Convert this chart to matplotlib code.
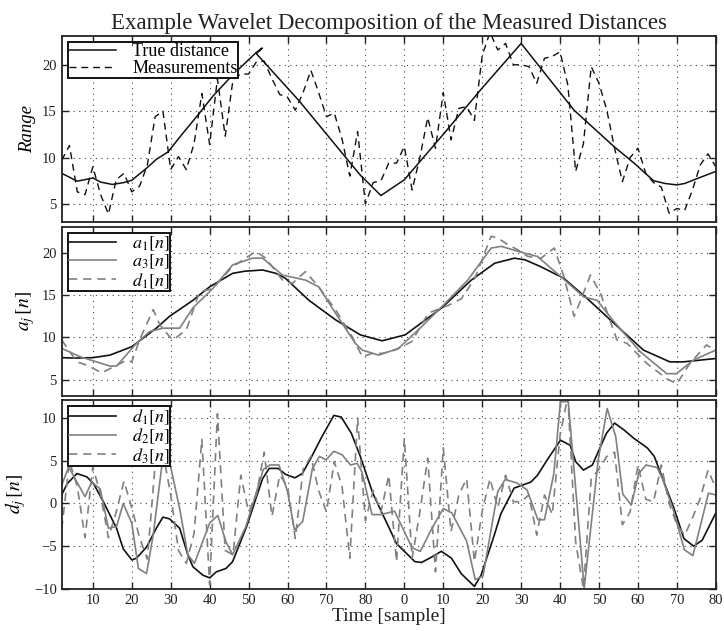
import matplotlib
matplotlib.use('Agg')
import matplotlib.pyplot as plt

plt.rcParams['font.family'] = ['Liberation Serif', 'DejaVu Serif']
plt.rcParams['mathtext.fontset'] = 'stix'

# ---- top panel: true range and noisy measurements ----
true_x = [2, 6, 9, 10, 12, 15, 18, 20, 23.8, 26.3, 29.3, 33.1, 37.4, 40.8, 45.9, 51.9,
          53.5, 52, 63, 78.7, 84, 90, 100, 110, 120, 133.6, 143.8, 149, 154, 157,
          160, 162, 165, 170]
true_y = [8.3, 7.45, 7.7, 7.8, 7.35, 7.1, 7.3, 7.55, 8.85, 9.8, 10.6, 12.6, 14.8, 16.6, 18.9, 21.3,
          21.8, 21.2, 16.1, 8.1, 5.9, 7.6, 12.5, 17.5, 22.3, 15.1, 11.2, 9.4, 7.5, 7.2,
          7.05, 7.2, 7.7, 8.5]

meas_x = list(range(2, 171, 2))
meas_y = [9.7, 11.3, 6.3, 6.0, 9.0, 6.0, 3.9, 7.6, 8.3, 6.3,
          6.9, 9.2, 14.4, 15.0, 8.7, 10.1, 8.7, 11.5, 16.9, 11.4,
          18.5, 12.3, 18.4, 19.0, 19.0, 20.3, 20.4, 18.5, 16.8, 16.5,
          15.1, 17.0, 19.4, 17.0, 14.4, 14.8, 12.0, 8.0, 12.8, 5.0,
          7.3, 7.5, 9.4, 9.4, 11.2, 6.5, 10.0, 14.3, 11.0, 17.0,
          11.9, 15.3, 15.5, 14.0, 21.0, 23.5, 21.6, 22.3, 20.0, 20.0,
          19.8, 18.0, 20.7, 20.9, 21.4, 17.8, 8.5, 11.5, 19.8, 18.0,
          15.1, 11.0, 7.4, 10.0, 11.0, 8.3, 7.3, 6.8, 4.0, 4.5,
          4.3, 6.5, 9.2, 10.4, 9.0]

# ---- middle panel: approximations ----
a1_x = [2, 5, 10, 14.4, 20, 26.3, 29.7, 35.7, 40, 45.9, 49, 53.6, 57, 59.5, 65.5, 72.3,
        78.7, 84.3, 90.2, 99.6, 107.2, 113.2, 118.3, 121, 125, 131, 137, 143.8, 151.4,
        158.2, 161.6, 170]
a1_y = [7.6, 7.55, 7.6, 7.9, 8.9, 11.1, 12.5, 14.4, 16.0, 17.6, 17.85, 18.0, 17.6, 17.0, 14.4, 12.1,
        10.3, 9.6, 10.3, 13.5, 16.8, 18.8, 19.4, 19.2, 18.4, 17.0, 14.6, 11.7, 8.5,
        7.1, 7.1, 7.5]

a3_x = [2, 6.8, 14.4, 16.1, 21.2, 24.6, 28, 32.3, 35.7, 40.8, 45.9, 51, 53.6, 58.7, 64.6,
        68, 72.3, 77.4, 79.2, 83.4, 88.5, 94.5, 100.4, 106.3, 112.3, 114.9, 120.8, 124.2,
        130.2, 136.1, 139.5, 143.8, 150.6, 157.4, 159.9, 164.2, 170]
a3_y = [8.7, 7.7, 6.6, 6.6, 9.3, 10.7, 11.1, 11.1, 13.5, 15.8, 18.6, 19.4, 19.4, 17.4, 16.8,
        16.0, 12.9, 9.3, 8.5, 7.9, 8.7, 11.3, 14.0, 16.8, 20.6, 20.8, 20.0, 19.6,
        17.2, 14.8, 14.4, 11.9, 8.3, 5.7, 5.7, 7.3, 8.5]

a2_x = [2, 5.9, 8.5, 12.3, 18.7, 20, 22, 25.5, 27.2, 29.7, 30.6, 34, 37.4, 40.8, 45.9, 51.9,
        54.4, 58.7, 61.2, 64.6, 68, 72.3, 76.6, 79.2, 81.7, 84.3, 87.7, 91.9, 96.2, 101.3,
        104.7, 108.1, 112.3, 114, 116.6, 119.1, 121.7, 125.1, 128.5, 131, 133.6, 135.3,
        137.8, 140.4, 144.6, 147.2, 152.3, 157.4, 160, 163.3, 167.6, 170]
a2_y = [9.7, 7.1, 6.7, 5.8, 7.3, 7.1, 9.7, 13.3, 11.5, 10.1, 9.7, 10.9, 15.4, 15.8, 18.4, 20.2,
        19.4, 16.8, 16.4, 17.8, 16.0, 13.3, 10.1, 7.7, 8.1, 8.1, 8.5, 9.5, 12.9, 13.8,
        14.6, 17.0, 22.0, 21.8, 21.0, 20.4, 19.6, 19.4, 20.6, 17.2, 12.5, 14.4,
        17.4, 15.2, 9.7, 9.3, 6.9, 5.1, 4.5, 6.9, 9.1, 8.5]

# ---- bottom panel: details ----
d1_x = [2, 3.4, 5.9, 8.5, 10.2, 12.7, 16.1, 17.8, 20, 21.2, 23.8, 26.3, 28, 29.7, 32.3,
        34.4, 35.7, 38.3, 40, 41.7, 44.2, 45.9, 49.5, 51.9, 53.6, 55.3, 57.6, 59.5, 61.9,
        63.8, 66, 68.7, 71.9, 73.8, 76.4, 78.7, 81.9, 85.3, 88, 92.7, 94.4, 96.9, 99.5,
        102.1, 104.6, 108, 109.7, 113.1, 114.8, 118.2, 122.5, 124.2, 126.7, 130.1, 132.6,
        134, 136, 138.3, 141.9, 144, 146.4, 149, 152.4, 154.2, 156.6, 159.2, 161.8, 164.3,
        166.5, 170]
d1_y = [1.0, 2.3, 3.5, 3.1, 2.3, 0.2, -2.9, -5.3, -6.6, -6.4, -5.1, -2.9, -1.6, -1.8, -2.9,
        -6.0, -7.4, -8.4, -8.7, -8.0, -7.6, -6.8, -2.7, 0.6, 2.9, 4.1, 4.1, 3.4, 3.0,
        3.5, 5.3, 7.7, 10.3, 10.1, 8.2, 5.5, 1.2, -2.1, -4.7, -6.8, -6.9, -6.3, -5.6,
        -6.4, -8.2, -9.7, -8.4, -3.7, -1.2, 1.8, 2.5, 3.3, 5.1, 7.4, 6.8,
        4.9, 3.9, 4.5, 8.2, 9.4, 8.6, 7.6, 6.5, 5.5, 2.6, -0.5, -4.1, -5.0,
        -4.3, -1.1]

d2_x = [2, 3.8, 5.9, 8, 9.7, 11.9, 14, 16.1, 17.8, 20, 21.7, 23.8, 25.5, 28, 29.7, 32.3,
        34.4, 36.1, 40, 42.1, 44.2, 45.9, 49.3, 53.8, 55.5, 57.8, 60, 61.8, 63.9, 66.4,
        68.2, 69.9, 71.9, 74, 76.2, 77.9, 79.1, 81.7, 84, 87.5, 89.8, 92, 94.1, 97.1,
        100, 102.2, 106, 108.2, 110.2, 114, 115.9, 118.9, 121.5, 124.3, 126, 128.4, 130.1,
        132.1, 136.2, 139.8, 142.1, 144.3, 146.1, 148.3, 150.2, 152.1, 154.9, 156.3,
        159.1, 161.9, 164.1, 166.1, 168.1, 170]
d2_y = [2.1, 4.3, 2.5, 0.8, 2.5, 1.7, -2.9, -2.7, 0, -2.3, -7.6, -8.2, -3.7, 5.4, 4.9, -0.6,
        -6.0, -7.0, -2.3, -1.4, -4.5, -6.0, -2.7, 4.0, 4.5, 4.5, 1.4, -3.1, -2.1, 4.1,
        5.5, 5.1, 6.1, 5.7, 4.5, 4.7, 3.7, -1.3, -1.3, -0.9, -3.1, -5.2, -5.6, -2.9,
        -0.6, -1.1, -4.4, -8.9, -8.5, 1.4, 2.8, 2.4, 1.6, -1.9, -1.9, 3.5, 11.9,
        11.9, -9.9, 5.1, 11.1, 7.8, 1.1, -0.2, 3.5, 4.5, 4.2, 2.9,
        -0.8, -5.4, -6.1, -2.5, 1.2, 1.0]

d3_x = list(range(2, 171, 2))
d3_y = [-3.0, 4.9, 2.0, -4.0, 4.3, 1.0, -4.0, -1.0, 2.6, -0.5,
        -4.0, -6.5, 4.5, 6.0, 1.0, -5.5, -7.0, -3.5, 7.5, -9.5,
        10.5, -5.5, -6.0, 3.3, -1.0, 1.0, 6.0, -1.5, 3.3, 2.0,
        -4.1, 4.0, 5.5, 1.5, -1.0, 4.9, 2.0, -6.4, 10.0, -2.0,
        1.5, -1.0, 3.3, -6.8, 7.6, -6.4, -1.0, 5.3, -8.0, 6.5,
        -3.3, 1.0, 2.9, -6.8, -0.9, 2.9, -0.5, 3.3, 0.2, 0.2,
        1.0, -3.7, 1.0, -1.3, 8.0, 12.5, -4.5, -10.0, 2.9, 4.0,
        5.5, 6.0, -2.5, -1.0, 4.5, 0.5, 0.2, 4.5, 0.0, -2.5,
        -3.7, -1.7, 0.6, 3.9, 1.8]

xticks = list(range(10, 171, 10))
xtick_labels = ['10', '20', '30', '40', '50', '60', '70', '80', '0',
                '10', '20', '30', '40', '50', '60', '70', '80']

BLACK = '#111111'
GRAY = '#808080'

fig = plt.figure(figsize=(7.24, 6.31), dpi=100)
left, width = 0.0852, 0.9035
ax1 = fig.add_axes([left, 0.6482, width, 0.2947])
ax2 = fig.add_axes([left, 0.3724, width, 0.2679])
ax3 = fig.add_axes([left, 0.0666, width, 0.2995])


def style(ax):
    ax.set_xlim(2, 170)
    ax.set_xticks(xticks)
    ax.grid(True, linestyle=(0, (1, 4)), color='#444444', linewidth=0.8)
    ax.tick_params(direction='in', top=True, right=True, length=5,
                   width=1.0, labelsize=10.5, colors='#222222')
    for s in ax.spines.values():
        s.set_linewidth(1.3)
        s.set_color('#222222')


def legend(ax):
    leg = ax.legend(loc='upper left', fontsize=13, labelspacing=0.0,
                    borderpad=0.05, handlelength=2.6, handletextpad=0.9,
                    borderaxespad=0.35, fancybox=False, framealpha=1)
    leg.get_frame().set_edgecolor('#111111')
    leg.get_frame().set_linewidth(1.4)


# top
ax1.plot(true_x, true_y, color=BLACK, lw=1.1, label='True distance')
ax1.plot(meas_x, meas_y, color=BLACK, lw=1.0, dashes=(5, 3.5), label='Measurements')
style(ax1)
ax1.set_ylim(3.05, 23.1)
ax1.set_yticks([5, 10, 15, 20])
ax1.set_xticklabels([])
ax1.set_ylabel('Range', fontsize=13.5, style='italic')
ax1.set_title('Example Wavelet Decomposition of the Measured Distances',
              fontsize=16.5, pad=5, color='#222222')
legend(ax1)

# middle
ax2.plot(a1_x, a1_y, color=BLACK, lw=1.2, label='$a_1[n]$')
ax2.plot(a3_x, a3_y, color=GRAY, lw=1.2, label='$a_3[n]$')
ax2.plot(a2_x, a2_y, color=GRAY, lw=1.2, dashes=(5, 3.5), label='$d_1[n]$')
style(ax2)
ax2.set_ylim(3.05, 23.1)
ax2.set_yticks([5, 10, 15, 20])
ax2.set_xticklabels([])
ax2.set_ylabel('$a_j\\,[n]$', fontsize=14)
legend(ax2)

# bottom
ax3.plot(d1_x, d1_y, color=BLACK, lw=1.2, label='$d_1[n]$')
ax3.plot(d2_x, d2_y, color=GRAY, lw=1.2, label='$d_2[n]$')
ax3.plot(d3_x, d3_y, color=GRAY, lw=1.2, dashes=(5, 3.5), label='$d_3[n]$')
style(ax3)
ax3.set_ylim(-10, 12.1)
ax3.set_yticks([-10, -5, 0, 5, 10])
ax3.set_xticklabels(xtick_labels)
ax3.set_ylabel('$d_j\\,[n]$', fontsize=14)
ax3.set_xlabel('Time [sample]', fontsize=14, color='#222222', labelpad=1)
legend(ax3)

fig.savefig('out.png', dpi=100)
